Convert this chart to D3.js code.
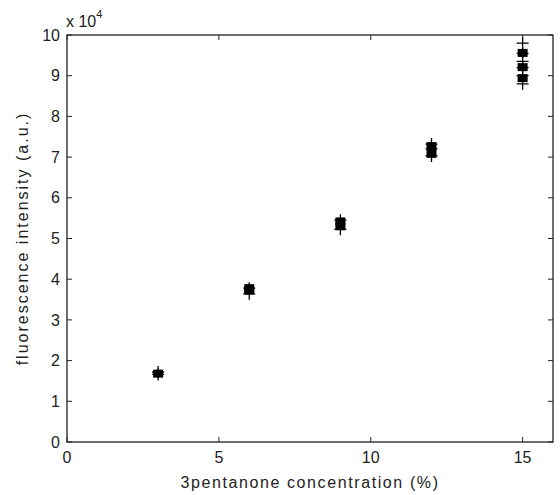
<!DOCTYPE html>
<meta charset="utf-8">
<head>
  <title>3pentanone fluorescence</title>
  <script src="https://d3js.org/d3.v7.min.js"></script>
  <style>
    body { margin: 0; background: #fff; }
    text { font-family: "Liberation Sans", Arial, sans-serif; fill: #222; }
  </style>
</head>
<body>
<svg width="560" height="495"></svg>
<script>
// concentrations (%) and readings (units of 1e4)
var concentrations = [3, 6, 9, 12, 15];
var plusValues = [
  [1.72, 1.66],
  [3.78, 3.64],
  [5.45, 5.23],
  [7.32, 7.20, 7.03],
  [9.80, 9.55, 9.35, 9.20, 9.00, 8.80]
];
var squareValues = [
  [1.68],
  [3.78, 3.72],
  [5.42, 5.30],
  [7.27, 7.08],
  [9.56, 9.21, 8.94]
];
var xTicks = [0, 5, 10, 15];
var yTicks = [0, 1, 2, 3, 4, 5, 6, 7, 8, 9, 10];

var svg = d3.select("svg"),
    margin = {top: 35, right: 7, bottom: 53, left: 67},
    width = +svg.attr("width") - margin.left - margin.right,
    height = +svg.attr("height") - margin.top - margin.bottom,
    g = svg.append("g").attr("transform", "translate(" + margin.left + "," + margin.top + ")");

var x = d3.scaleLinear().domain([0, 16]).range([0, width]);
var y = d3.scaleLinear().domain([0, 10]).range([height, 0]);

// box
g.append("rect")
  .attr("width", width).attr("height", height)
  .attr("fill", "none").attr("stroke", "#222").attr("stroke-width", 1.3);

// ticks, inward on all sides
var tl = 5;
g.selectAll(".xt").data(xTicks).enter().append("path")
  .attr("d", function(d) {
    var px = x(d);
    return "M" + px + "," + height + "v" + (-tl) + "M" + px + ",0v" + tl;
  })
  .attr("stroke", "#222");
g.selectAll(".yt").data(yTicks).enter().append("path")
  .attr("d", function(d) {
    var py = y(d);
    return "M0," + py + "h" + tl + "M" + width + "," + py + "h" + (-tl);
  })
  .attr("stroke", "#222");

g.selectAll(".xl").data(xTicks).enter().append("text")
  .attr("x", function(d) { return x(d); })
  .attr("y", height + 21)
  .attr("text-anchor", "middle")
  .attr("font-size", 16)
  .text(function(d) { return d; });

g.selectAll(".yl").data(yTicks).enter().append("text")
  .attr("x", -7)
  .attr("y", function(d) { return y(d); })
  .attr("dy", "0.35em")
  .attr("text-anchor", "end")
  .attr("font-size", 16)
  .text(function(d) { return d; });

// exponent label
var ex = svg.append("text").attr("x", 66).attr("y", 27).attr("font-size", 16);
ex.append("tspan").text("x 10");
ex.append("tspan").attr("font-size", 11).attr("dy", -9).text("4");

// axis titles
svg.append("text")
  .attr("x", margin.left + x(8))
  .attr("y", 488)
  .attr("text-anchor", "middle")
  .attr("font-size", 16)
  .attr("letter-spacing", 1.6)
  .text("3pentanone concentration (%)");

svg.append("text")
  .attr("transform", "translate(28," + (margin.top + height / 2) + ") rotate(-90)")
  .attr("text-anchor", "middle")
  .attr("font-size", 16)
  .attr("letter-spacing", 2)
  .text("fluorescence intensity (a.u.)");

// flatten points
var squares = [], pluses = [];
concentrations.forEach(function(c, i) {
  squareValues[i].forEach(function(v) { squares.push({c: c, v: v}); });
  plusValues[i].forEach(function(v) { pluses.push({c: c, v: v}); });
});

g.selectAll(".sq").data(squares).enter().append("rect")
  .attr("x", function(d) { return x(d.c) - 5; })
  .attr("y", function(d) { return y(d.v) - 4; })
  .attr("width", 10).attr("height", 8)
  .attr("fill", "#000");

var arm = 6;
g.selectAll(".pl").data(pluses).enter().append("path")
  .attr("d", function(d) {
    var px = x(d.c), py = y(d.v);
    return "M" + (px - arm) + "," + py + "h" + (2 * arm) + "M" + px + "," + (py - arm) + "v" + (2 * arm);
  })
  .attr("stroke", "#000").attr("stroke-width", 1.3);
</script>
</body>
